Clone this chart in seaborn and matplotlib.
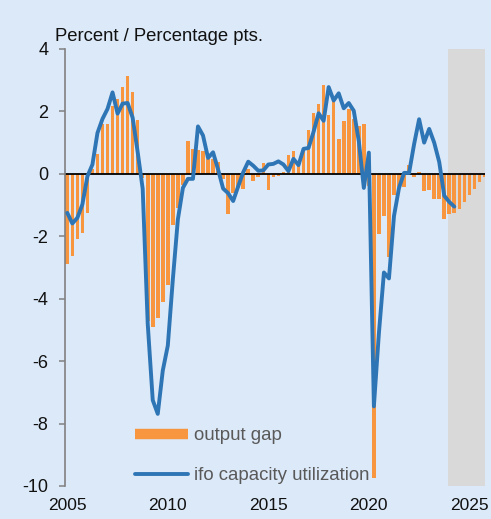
import numpy as np
import pandas as pd
import matplotlib
matplotlib.use('Agg')
import matplotlib.pyplot as plt
from matplotlib.lines import Line2D
import seaborn as sns

# quarterly values, 2005Q1 onwards
output_gap = [
    -2.88, -2.63, -2.10, -1.91,   # 2005
    -1.27, 0.17, 0.64, 1.60,      # 2006
    1.61, 2.17, 2.40, 2.78,       # 2007
    3.12, 2.62, 1.71, -0.13,      # 2008
    -4.70, -4.92, -4.62, -4.12,   # 2009
    -3.56, -1.64, -1.10, -0.37,   # 2010
    1.04, 0.80, 0.75, 0.72,       # 2011
    0.48, 0.46, 0.37, -0.15,      # 2012
    -1.28, -0.60, -0.45, -0.47,   # 2013
    0.14, -0.24, -0.11, 0.36,     # 2014
    -0.53, -0.09, -0.06, 0.07,    # 2015
    0.60, 0.73, 0.30, 0.83,       # 2016
    1.39, 1.96, 2.24, 2.85,       # 2017
    1.87, 2.37, 1.13, 1.68,       # 2018
    2.09, 1.75, 1.52, 1.59,       # 2019
    -0.40, -9.75, -1.93, -1.34,   # 2020
    -2.65, -0.68, -0.43, -0.43,   # 2021
    0.28, -0.10, 0.07, -0.55,     # 2022
    -0.51, -0.80, -0.80, -1.44,   # 2023
    -1.30, -1.25, -1.12, -0.90,   # 2024
    -0.68, -0.47, -0.26, -0.11,   # 2025
]

ifo_capacity = [
    -1.25, -1.59, -1.41, -0.98,   # 2005
    -0.08, 0.30, 1.31, 1.76,      # 2006
    2.08, 2.61, 1.93, 2.25,       # 2007
    2.27, 1.80, 0.70, -0.48,      # 2008
    -4.80, -7.25, -7.69, -6.30,   # 2009
    -5.50, -3.38, -1.46, -0.45,   # 2010
    -0.16, -0.16, 1.52, 1.23,     # 2011
    0.51, 0.69, 0.14, -0.47,      # 2012
    -0.62, -0.87, -0.40, 0.05,    # 2013
    0.39, 0.26, 0.10, 0.11,       # 2014
    0.30, 0.32, 0.40, 0.30,       # 2015
    0.09, 0.48, 0.28, 0.80,       # 2016
    0.83, 1.35, 1.94, 1.70,       # 2017
    2.78, 2.35, 2.58, 2.10,       # 2018
    2.27, 2.02, 1.05, -0.45,      # 2019
    0.68, -7.45, -5.10, -3.16,    # 2020
    -3.35, -1.35, -0.45, 0.03,    # 2021
    0.03, 0.95, 1.75, 1.00,       # 2022
    1.44, 1.00, 0.38, -0.70,      # 2023
    -0.90, -1.05,                 # 2024
]

year_ticks = [2005, 2010, 2015, 2020, 2025]
y_ticks = [-10, -8, -6, -4, -2, 0, 2, 4]
forecast_start = 2024

bg = '#dce9f8'
orange = '#f8963f'
blue = '#2e75b6'

gap_df = pd.DataFrame({'date': 2005 + 0.25 * np.arange(len(output_gap)), 'gap': output_gap})
ifo_df = pd.DataFrame({'date': 2005 + 0.25 * np.arange(len(ifo_capacity)), 'ifo': ifo_capacity})

sns.set_theme(style='white')
plt.rcParams['font.family'] = ['Liberation Sans', 'DejaVu Sans']

fig = plt.figure(figsize=(4.91, 5.19), dpi=100, facecolor=bg)
ax = fig.add_axes([0.1324, 0.0636, 0.8555, 0.842])
ax.set_facecolor(bg)

x_left, x_right = 2004.886, 2025.78

# forecast shading
ax.axvspan(forecast_start - 0.05, x_right, color='#d9d9d9', lw=0, zorder=0)

sns.barplot(data=gap_df, x='date', y='gap', native_scale=True, width=0.72,
            color=orange, saturation=1, errorbar=None, linewidth=0, ax=ax, zorder=1)
ax.axhline(0, color='black', lw=1.3, zorder=2)
sns.lineplot(data=ifo_df, x='date', y='ifo', color=blue, lw=2.8, ax=ax, zorder=3,
             solid_joinstyle='round', solid_capstyle='round')

ax.set_xlim(x_left, x_right)
ax.set_ylim(-10, 4)
ax.set_xticks(year_ticks)
ax.set_xticklabels([str(y) for y in year_ticks])
ax.set_yticks(y_ticks)
ax.set_yticklabels([str(v) for v in y_ticks])
ax.set_xlabel('')
ax.set_ylabel('')

for side in ['top', 'right', 'bottom']:
    ax.spines[side].set_visible(False)
ax.spines['left'].set_color('#808080')
ax.spines['left'].set_linewidth(1.2)

ax.tick_params(axis='y', left=True, length=4, width=1.1, color='#808080', pad=8,
               labelsize=13, labelcolor='#111111')
ax.tick_params(axis='x', bottom=False, length=0, pad=9, labelsize=12.5, labelcolor='#111111')

fig.text(55 / 491, 1 - 40.7 / 519, 'Percent / Percentage pts.', fontsize=13.3,
         ha='left', va='baseline', color='#111111')

handles = [Line2D([0], [0], color=orange, lw=7.5, solid_capstyle='butt'),
           Line2D([0], [0], color=blue, lw=2.8, solid_capstyle='round')]
ax.legend(handles, ['output gap', 'ifo capacity utilization'], loc='upper left',
          bbox_to_anchor=(0.167, 0.134), frameon=False, fontsize=13.4,
          handlelength=2.85, handletextpad=0.3, labelspacing=1.22,
          labelcolor='#595959', borderpad=0, borderaxespad=0)

fig.savefig('out.png', dpi=100, facecolor=bg)
